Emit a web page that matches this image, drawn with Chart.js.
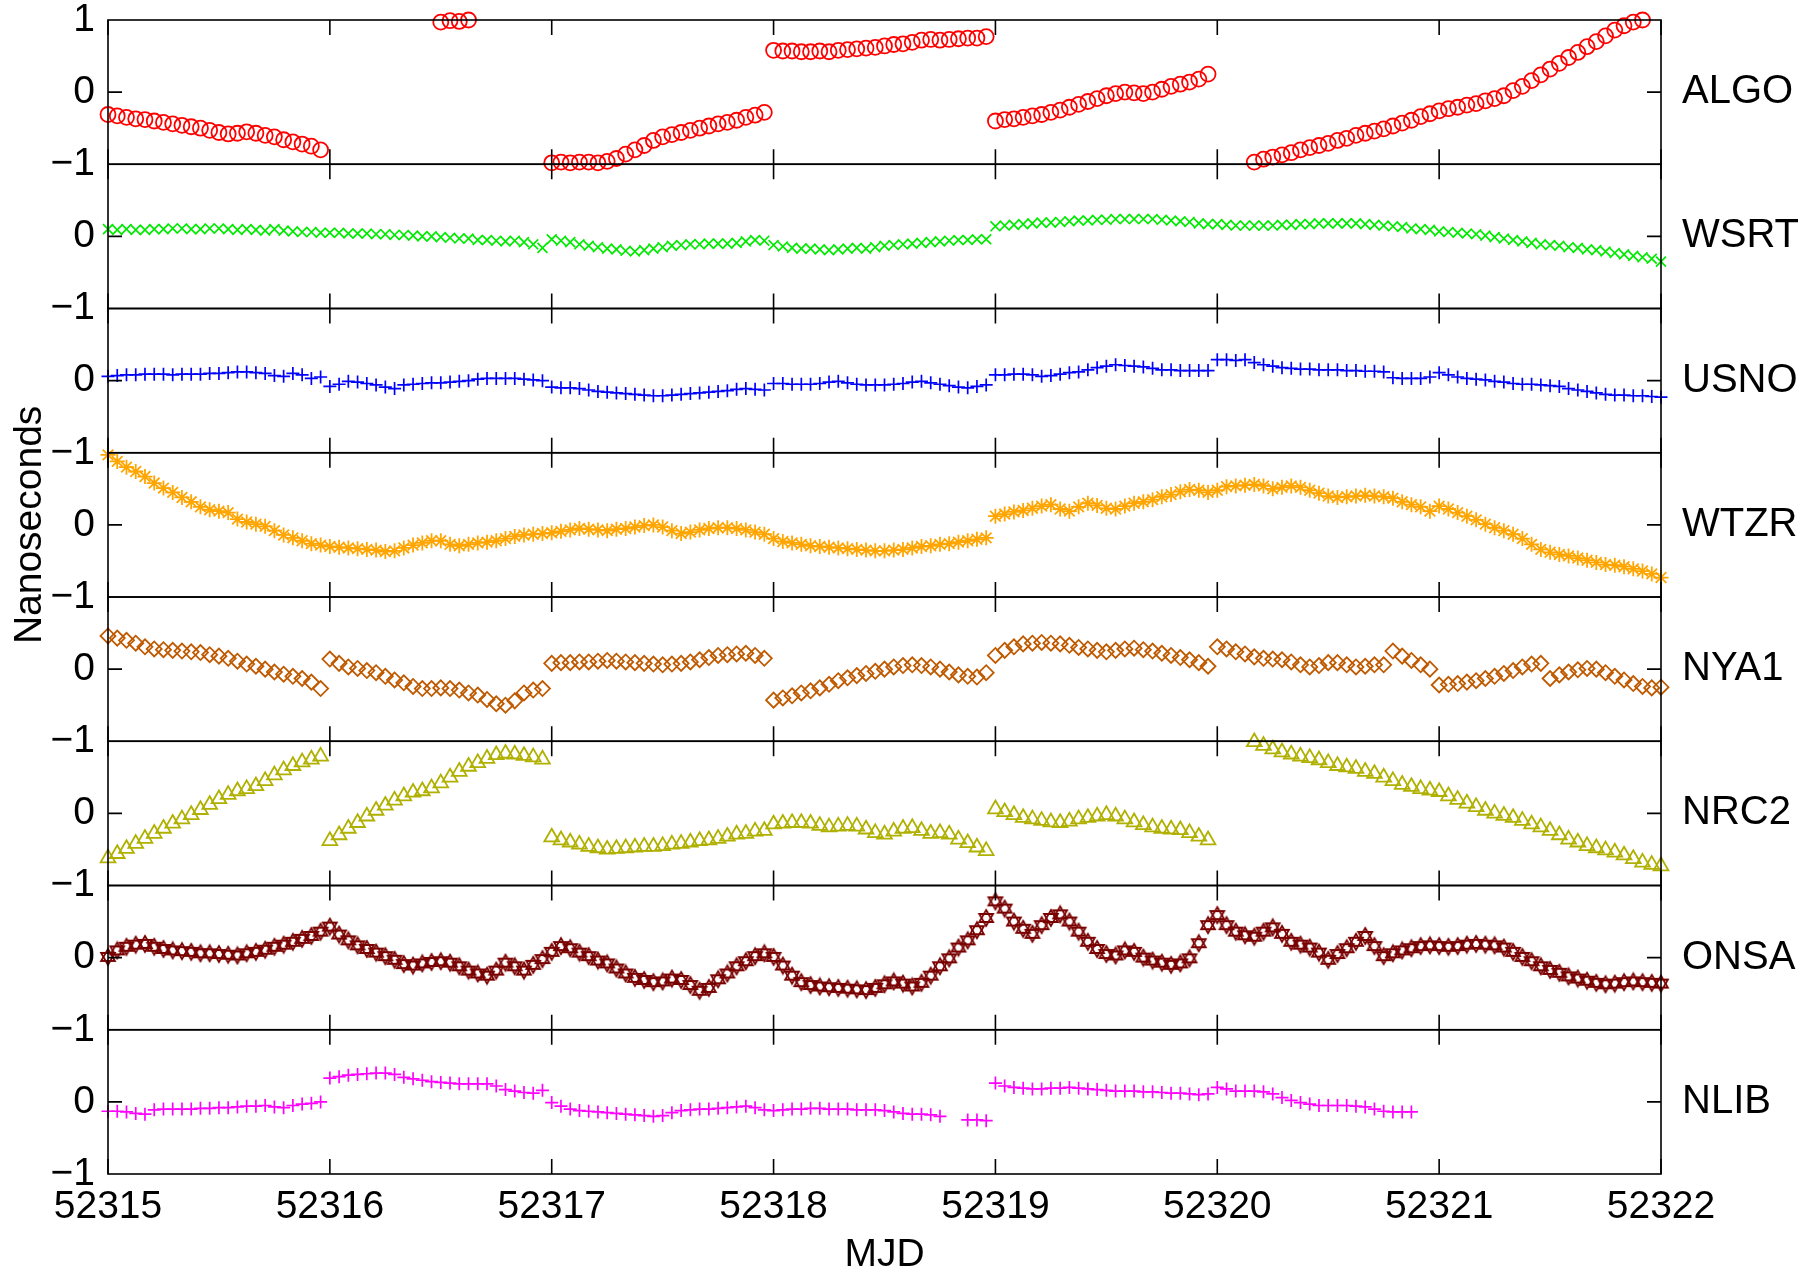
<!DOCTYPE html>
<html>
<head>
<meta charset="utf-8">
<title>Clock offsets by station</title>
<script src="https://cdn.jsdelivr.net/npm/chart.js@4.4.1/dist/chart.umd.min.js"></script>
<style>
  html, body { margin: 0; padding: 0; background: #ffffff; }
  #wrap { width: 1802px; height: 1275px; }
</style>
</head>
<body>
<div id="wrap"><canvas id="chart" width="1802" height="1275"></canvas></div>
<script>
// Hourly samples starting at MJD 52315.0 (index i -> 52315 + i/24), nanoseconds.
const MJD_START = 52315;
const SAMPLES_PER_DAY = 24;

const stations = ['ALGO', 'WSRT', 'USNO', 'WTZR', 'NYA1', 'NRC2', 'ONSA', 'NLIB'];
const xTicks = [52315, 52316, 52317, 52318, 52319, 52320, 52321, 52322];
const yTicks = [-1, 0, 1];

const algo = [
  -0.31,-0.33,-0.35,-0.37,-0.38,-0.40,-0.42,-0.44,-0.46,-0.48,-0.50,-0.53,-0.56,-0.58,-0.57,-0.55,-0.57,-0.60,-0.62,-0.66,-0.69,-0.72,-0.75,-0.80,
  null,null,null,null,null,null,null,null,null,null,null,null,0.97,0.99,0.98,1.00,null,null,null,null,null,null,null,null,
  -0.98,-0.97,-0.98,-0.97,-0.97,-0.98,-0.96,-0.92,-0.86,-0.80,-0.74,-0.67,-0.62,-0.59,-0.56,-0.53,-0.50,-0.47,-0.44,-0.42,-0.39,-0.35,-0.32,-0.28,
  0.58,0.57,0.57,0.56,0.56,0.57,0.56,0.58,0.59,0.60,0.61,0.62,0.64,0.66,0.67,0.69,0.72,0.73,0.72,0.73,0.74,0.75,0.75,0.77,
  -0.40,-0.38,-0.37,-0.35,-0.33,-0.31,-0.28,-0.25,-0.21,-0.17,-0.13,-0.09,-0.05,-0.02,0.00,-0.01,-0.02,0.00,0.04,0.08,0.11,0.14,0.18,0.25,
  null,null,null,null,-0.97,-0.93,-0.90,-0.87,-0.84,-0.80,-0.77,-0.74,-0.71,-0.67,-0.64,-0.60,-0.57,-0.54,-0.51,-0.47,-0.43,-0.39,-0.34,-0.30,
  -0.26,-0.23,-0.21,-0.18,-0.16,-0.12,-0.09,-0.05,0.02,0.08,0.16,0.24,0.32,0.40,0.48,0.55,0.63,0.70,0.78,0.86,0.92,0.97,1.00,null,null
];

const wsrt = [
  0.10,0.09,0.10,0.09,0.09,0.10,0.10,0.11,0.11,0.10,0.10,0.11,0.11,0.10,0.09,0.10,0.09,0.08,0.10,0.08,0.07,0.06,0.06,0.05,
  0.05,0.05,0.04,0.04,0.04,0.03,0.03,0.02,0.02,0.01,0.00,0.00,-0.01,-0.02,-0.03,-0.03,-0.05,-0.05,-0.06,-0.07,-0.06,-0.08,-0.11,-0.16,
  -0.04,-0.06,-0.08,-0.11,-0.13,-0.15,-0.17,-0.18,-0.20,-0.21,-0.19,-0.17,-0.15,-0.13,-0.12,-0.11,-0.11,-0.10,-0.10,-0.10,-0.09,-0.07,-0.05,-0.06,
  -0.12,-0.14,-0.16,-0.17,-0.17,-0.18,-0.19,-0.18,-0.17,-0.16,-0.17,-0.15,-0.13,-0.12,-0.11,-0.10,-0.09,-0.08,-0.07,-0.06,-0.05,-0.05,-0.04,-0.04,
  0.14,0.15,0.16,0.17,0.18,0.19,0.19,0.20,0.21,0.22,0.22,0.23,0.23,0.24,0.24,0.24,0.24,0.24,0.23,0.22,0.21,0.20,0.18,0.17,
  0.17,0.16,0.15,0.15,0.15,0.15,0.15,0.16,0.16,0.17,0.17,0.18,0.18,0.18,0.18,0.18,0.17,0.16,0.15,0.14,0.13,0.11,0.10,0.09,
  0.07,0.06,0.05,0.04,0.03,0.01,-0.01,-0.03,-0.05,-0.07,-0.09,-0.11,-0.12,-0.13,-0.15,-0.16,-0.18,-0.19,-0.21,-0.23,-0.25,-0.27,-0.29,-0.31,-0.35
];

const usno = [
  0.06,0.07,0.08,0.08,0.09,0.09,0.09,0.08,0.09,0.09,0.09,0.10,0.10,0.11,0.12,0.12,0.11,0.10,0.07,0.06,0.10,0.08,0.03,0.05,
  -0.08,-0.05,-0.01,-0.02,-0.04,-0.06,-0.09,-0.11,-0.06,-0.05,-0.04,-0.03,-0.03,-0.02,-0.01,0.00,0.02,0.03,0.03,0.03,0.03,0.02,0.01,0.00,
  -0.09,-0.10,-0.10,-0.11,-0.13,-0.15,-0.16,-0.17,-0.18,-0.19,-0.20,-0.21,-0.21,-0.20,-0.19,-0.18,-0.17,-0.16,-0.15,-0.14,-0.12,-0.11,-0.12,-0.13,
  -0.04,-0.04,-0.05,-0.05,-0.05,-0.04,-0.02,-0.01,-0.03,-0.05,-0.06,-0.06,-0.06,-0.05,-0.04,-0.02,-0.01,-0.03,-0.05,-0.07,-0.09,-0.10,-0.08,-0.06,
  0.08,0.08,0.09,0.09,0.08,0.06,0.07,0.09,0.11,0.12,0.15,0.18,0.20,0.22,0.21,0.20,0.19,0.17,0.15,0.15,0.14,0.14,0.14,0.14,
  0.29,0.29,0.28,0.29,0.25,0.22,0.20,0.18,0.17,0.16,0.16,0.15,0.15,0.15,0.14,0.14,0.13,0.13,0.12,0.04,0.03,0.03,0.03,0.05,
  0.11,0.08,0.05,0.03,0.02,0.01,-0.01,-0.02,-0.04,-0.05,-0.05,-0.06,-0.07,-0.08,-0.11,-0.13,-0.15,-0.17,-0.19,-0.20,-0.20,-0.21,-0.21,-0.22,-0.23
];

const wtzr = [
  0.97,0.88,0.80,0.74,0.67,0.58,0.51,0.45,0.38,0.32,0.25,0.21,0.19,0.17,0.08,0.04,0.01,-0.02,-0.08,-0.14,-0.18,-0.22,-0.26,-0.28,
  -0.30,-0.31,-0.32,-0.33,-0.34,-0.35,-0.37,-0.36,-0.32,-0.28,-0.25,-0.22,-0.22,-0.27,-0.29,-0.27,-0.25,-0.24,-0.22,-0.19,-0.16,-0.14,-0.13,-0.12,
  -0.11,-0.09,-0.07,-0.05,-0.06,-0.07,-0.08,-0.06,-0.05,-0.03,-0.01,0.00,-0.03,-0.08,-0.12,-0.10,-0.07,-0.05,-0.04,-0.04,-0.05,-0.07,-0.10,-0.13,
  -0.19,-0.23,-0.25,-0.27,-0.29,-0.30,-0.31,-0.32,-0.33,-0.34,-0.35,-0.36,-0.36,-0.35,-0.34,-0.32,-0.30,-0.29,-0.27,-0.26,-0.24,-0.22,-0.20,-0.18,
  0.12,0.15,0.18,0.20,0.23,0.26,0.28,0.22,0.19,0.25,0.30,0.27,0.23,0.22,0.26,0.30,0.32,0.35,0.39,0.42,0.46,0.49,0.48,0.45,
  0.48,0.53,0.54,0.55,0.56,0.54,0.50,0.52,0.54,0.52,0.48,0.44,0.40,0.38,0.39,0.40,0.41,0.40,0.39,0.37,0.32,0.28,0.25,0.19,
  0.26,0.22,0.17,0.12,0.07,0.01,-0.04,-0.08,-0.13,-0.19,-0.27,-0.34,-0.38,-0.41,-0.43,-0.46,-0.49,-0.52,-0.55,-0.56,-0.58,-0.61,-0.64,-0.68,-0.73
];

const nya1 = [
  0.46,0.43,0.40,0.36,0.31,0.28,0.27,0.26,0.25,0.24,0.23,0.20,0.18,0.15,0.11,0.07,0.04,0.00,-0.04,-0.07,-0.10,-0.13,-0.18,-0.27,
  0.14,0.08,0.03,0.01,-0.02,-0.05,-0.10,-0.15,-0.19,-0.24,-0.27,-0.27,-0.26,-0.27,-0.29,-0.33,-0.36,-0.42,-0.48,-0.50,-0.44,-0.33,-0.29,-0.27,
  0.08,0.09,0.09,0.10,0.10,0.11,0.12,0.11,0.10,0.09,0.08,0.07,0.06,0.07,0.08,0.10,0.13,0.16,0.19,0.20,0.21,0.22,0.19,0.15,
  -0.43,-0.40,-0.37,-0.33,-0.30,-0.26,-0.21,-0.16,-0.12,-0.09,-0.06,-0.03,0.00,0.03,0.05,0.06,0.05,0.03,0.00,-0.04,-0.08,-0.10,-0.11,-0.05,
  0.19,0.26,0.31,0.35,0.36,0.37,0.36,0.35,0.33,0.30,0.28,0.26,0.24,0.26,0.28,0.29,0.27,0.25,0.22,0.19,0.16,0.13,0.09,0.04,
  0.31,0.28,0.24,0.21,0.17,0.15,0.14,0.13,0.10,0.06,0.03,0.05,0.09,0.09,0.06,0.03,0.04,0.06,0.06,0.25,0.18,0.12,0.06,0.00,
  -0.22,-0.21,-0.20,-0.18,-0.16,-0.13,-0.10,-0.06,-0.02,0.03,0.07,0.08,-0.13,-0.08,-0.04,-0.01,0.01,0.00,-0.05,-0.10,-0.15,-0.20,-0.24,-0.26,-0.25
];

const nrc2 = [
  -0.62,-0.56,-0.49,-0.42,-0.35,-0.28,-0.21,-0.14,-0.08,-0.02,0.05,0.12,0.20,0.26,0.31,0.34,0.38,0.45,0.53,0.60,0.66,0.71,0.75,0.79,
  -0.38,-0.30,-0.21,-0.13,-0.04,0.04,0.11,0.18,0.24,0.29,0.31,0.35,0.42,0.50,0.58,0.65,0.70,0.76,0.81,0.83,0.82,0.80,0.78,0.75,
  -0.33,-0.37,-0.40,-0.43,-0.46,-0.48,-0.50,-0.49,-0.48,-0.47,-0.46,-0.46,-0.45,-0.43,-0.42,-0.40,-0.38,-0.37,-0.35,-0.32,-0.29,-0.28,-0.25,-0.24,
  -0.15,-0.14,-0.13,-0.13,-0.14,-0.17,-0.19,-0.18,-0.17,-0.18,-0.22,-0.27,-0.29,-0.25,-0.21,-0.20,-0.24,-0.28,-0.27,-0.29,-0.36,-0.41,-0.47,-0.52,
  0.06,0.02,-0.02,-0.06,-0.08,-0.10,-0.12,-0.13,-0.11,-0.08,-0.06,-0.04,-0.02,-0.04,-0.08,-0.12,-0.16,-0.19,-0.21,-0.22,-0.23,-0.27,-0.32,-0.37,
  null,null,null,null,0.99,0.94,0.89,0.85,0.82,0.79,0.77,0.74,0.70,0.66,0.64,0.62,0.58,0.55,0.50,0.45,0.40,0.37,0.34,0.32,
  0.30,0.24,0.19,0.14,0.09,0.04,0.00,-0.03,-0.06,-0.10,-0.15,-0.19,-0.24,-0.30,-0.36,-0.40,-0.45,-0.48,-0.51,-0.54,-0.58,-0.63,-0.68,-0.71,-0.73
];

const onsa = [
  0.01,0.10,0.15,0.18,0.19,0.15,0.12,0.10,0.09,0.08,0.06,0.06,0.05,0.04,0.03,0.06,0.08,0.11,0.15,0.18,0.22,0.26,0.30,0.36,
  0.43,0.32,0.24,0.17,0.12,0.07,0.02,-0.03,-0.09,-0.11,-0.08,-0.06,-0.05,-0.07,-0.12,-0.18,-0.22,-0.25,-0.18,-0.07,-0.12,-0.18,-0.10,-0.02,
  0.08,0.16,0.13,0.07,0.02,-0.04,-0.08,-0.15,-0.22,-0.28,-0.31,-0.34,-0.33,-0.29,-0.31,-0.38,-0.46,-0.42,-0.30,-0.22,-0.12,-0.05,0.02,0.06,
  0.01,-0.11,-0.25,-0.34,-0.38,-0.40,-0.41,-0.42,-0.43,-0.44,-0.45,-0.42,-0.37,-0.33,-0.36,-0.40,-0.35,-0.25,-0.12,-0.01,0.14,0.24,0.38,0.55,
  0.78,0.68,0.50,0.40,0.33,0.45,0.55,0.60,0.50,0.36,0.22,0.12,0.05,0.03,0.10,0.08,0.00,-0.04,-0.07,-0.10,-0.08,-0.01,0.20,0.45,
  0.59,0.45,0.36,0.31,0.29,0.36,0.42,0.33,0.22,0.18,0.14,0.07,-0.03,0.05,0.13,0.22,0.30,0.16,0.02,0.06,0.10,0.13,0.16,0.17,
  0.16,0.15,0.16,0.18,0.19,0.18,0.17,0.14,0.08,0.01,-0.05,-0.12,-0.17,-0.21,-0.26,-0.29,-0.32,-0.35,-0.37,-0.36,-0.34,-0.33,-0.34,-0.35,-0.36
];

const nlib = [
  -0.13,-0.13,-0.14,-0.16,-0.17,-0.11,-0.10,-0.10,-0.10,-0.10,-0.09,-0.09,-0.08,-0.08,-0.07,-0.06,-0.06,-0.05,-0.07,-0.08,-0.05,-0.03,-0.02,0.00,
  0.33,0.35,0.37,0.38,0.39,0.40,0.40,0.38,0.34,0.32,0.30,0.28,0.27,0.26,0.25,0.25,0.25,0.25,0.22,0.17,0.15,0.13,0.12,0.16,
  -0.01,-0.06,-0.10,-0.12,-0.13,-0.14,-0.15,-0.16,-0.17,-0.18,-0.19,-0.20,-0.19,-0.15,-0.12,-0.11,-0.10,-0.10,-0.09,-0.08,-0.07,-0.06,-0.08,-0.11,
  -0.12,-0.11,-0.10,-0.10,-0.09,-0.09,-0.10,-0.10,-0.10,-0.11,-0.11,-0.11,-0.12,-0.14,-0.16,-0.17,-0.17,-0.18,-0.20,null,null,-0.25,-0.25,-0.26,
  0.26,0.22,0.20,0.19,0.18,0.18,0.19,0.19,0.20,0.19,0.18,0.17,0.16,0.15,0.15,0.15,0.14,0.14,0.13,0.12,0.12,0.11,0.10,0.11,
  0.20,0.18,0.15,0.15,0.15,0.14,0.11,0.06,0.02,-0.01,-0.03,-0.05,-0.05,-0.05,-0.05,-0.06,-0.07,-0.10,-0.13,-0.14,-0.14,-0.14,null,null,
  null,null,null,null,null,null,null,null,null,null,null,null,null,null,null,null,null,null,null,null,null,null,null,null,null
];

const seriesValues = [algo, wsrt, usno, wtzr, nya1, nrc2, onsa, nlib];

// Marker look for each station, top panel first.
const markerColors = ['#ff0000', '#00ea00', '#0000ff', '#ffa500', '#bf5a00', '#b0b000', '#7a0000', '#ff00ff'];

// Six-pointed star marker (two overlaid triangles).
function hexagram(color, r) {
  const size = Math.ceil(2 * r + 4);
  const c = document.createElement('canvas');
  c.width = size; c.height = size;
  const g = c.getContext('2d');
  g.strokeStyle = color;
  g.lineWidth = 1.8;
  const cx = size / 2, cy = size / 2;
  [-Math.PI / 2, Math.PI / 2].forEach(function (start) {
    g.beginPath();
    for (let k = 0; k < 3; k++) {
      const a = start + k * 2 * Math.PI / 3;
      const px = cx + r * Math.cos(a), py = cy + r * Math.sin(a);
      if (k === 0) g.moveTo(px, py); else g.lineTo(px, py);
    }
    g.closePath();
    g.stroke();
  });
  return c;
}

const markerStyles = ['circle', 'crossRot', 'cross', 'star', 'rectRot', 'triangle', hexagram('#7a0000', 8), 'cross'];
const markerRadii = [7.5, 7, 6.5, 7.5, 7.5, 8.5, 8, 6.5];
const markerStroke = [1.8, 1.7, 1.7, 1.8, 1.8, 1.8, 1.8, 1.7];

const FONT = "'Liberation Sans', Arial, Helvetica, sans-serif";
Chart.defaults.font.family = FONT;
Chart.defaults.color = '#000000';

const panelIds = stations.map(function (_, i) { return 'y' + i; });

const datasets = stations.map(function (name, i) {
  return {
    label: name,
    yAxisID: panelIds[i],
    xAxisID: 'x',
    data: seriesValues[i].map(function (v, k) {
      return { x: MJD_START + k / SAMPLES_PER_DAY, y: v };
    }),
    showLine: false,
    pointStyle: markerStyles[i],
    pointRadius: markerRadii[i],
    pointHoverRadius: markerRadii[i],
    pointBorderWidth: markerStroke[i],
    pointBorderColor: markerColors[i],
    pointBackgroundColor: 'rgba(0,0,0,0)',
    clip: false
  };
});

function minusLabel(v) {
  return v < 0 ? '\u2212' + Math.abs(v) : String(v);
}

const scales = {
  x: {
    type: 'linear',
    position: 'bottom',
    min: xTicks[0],
    max: xTicks[xTicks.length - 1],
    afterBuildTicks: function (axis) { axis.ticks = xTicks.map(function (v) { return { value: v }; }); },
    ticks: { font: { size: 39 }, padding: 10, maxRotation: 0, autoSkip: false,
             callback: function (v) { return String(v); } },
    grid: { display: false, drawTicks: false },
    border: { display: false },
    title: { display: true, text: 'MJD', font: { size: 39, lineHeight: 1 }, padding: { top: 0, bottom: 0 } },
    afterFit: function (axis) { axis.height = 101; }
  }
};

stations.forEach(function (name, i) {
  // Left axis of each panel: value ticks; stacked so the panels share the plot width.
  scales[panelIds[i]] = {
    type: 'linear',
    position: 'left',
    stack: 'panels',
    stackWeight: 1,
    weight: stations.length - i,
    min: -1,
    max: 1,
    afterBuildTicks: function (axis) { axis.ticks = yTicks.map(function (v) { return { value: v }; }); },
    ticks: {
      font: { size: 39 },
      padding: 13,
      autoSkip: false,
      callback: function (v) { return (v === 1 && i > 0) ? '' : minusLabel(v); }
    },
    grid: { display: false, drawTicks: false },
    border: { display: false },
    title: {
      display: i === 3,
      text: 'Nanoseconds',
      font: { size: 39 },
      padding: { top: 7, bottom: 0 }
    },
    afterFit: function (axis) {
      axis.width = 108;
      axis.paddingTop = 20;
      axis.paddingBottom = 0;
    }
  };
  // Right axis of each panel: the station name at zero.
  scales['r' + i] = {
    type: 'linear',
    position: 'right',
    stack: 'names',
    stackWeight: 1,
    weight: i,
    min: -1,
    max: 1,
    afterBuildTicks: function (axis) { axis.ticks = [{ value: 0 }]; },
    ticks: {
      font: { size: 40 },
      padding: 21,
      autoSkip: false,
      callback: function () { return name; }
    },
    grid: { display: false, drawTicks: false },
    border: { display: false },
    afterFit: function (axis) {
      axis.width = 141;
      axis.paddingTop = 0;
      axis.paddingBottom = 0;
    }
  };
});

// Panel frames with inward tick marks.
const panelFrames = {
  id: 'panelFrames',
  afterDatasetsDraw: function (chart) {
    const ctx = chart.ctx;
    const area = chart.chartArea;
    const xs = chart.scales.x;
    const tickLen = 15, zeroTickLen = 14;
    ctx.save();
    ctx.strokeStyle = '#000000';
    ctx.lineWidth = 1.6;
    panelIds.forEach(function (id) {
      const s = chart.scales[id];
      const top = s.getPixelForValue(1);
      const bottom = s.getPixelForValue(-1);
      const mid = s.getPixelForValue(0);
      ctx.strokeRect(area.left, top, area.right - area.left, bottom - top);
      ctx.beginPath();
      xTicks.forEach(function (v) {
        const px = xs.getPixelForValue(v);
        ctx.moveTo(px, top); ctx.lineTo(px, top + tickLen);
        ctx.moveTo(px, bottom); ctx.lineTo(px, bottom - tickLen);
      });
      ctx.moveTo(area.left, mid); ctx.lineTo(area.left + zeroTickLen, mid);
      ctx.moveTo(area.right, mid); ctx.lineTo(area.right - zeroTickLen, mid);
      ctx.stroke();
    });
    ctx.restore();
  }
};

new Chart(document.getElementById('chart'), {
  type: 'scatter',
  data: { datasets: datasets },
  options: {
    responsive: false,
    animation: false,
    devicePixelRatio: 1,
    events: [],
    layout: { padding: 0 },
    plugins: { legend: { display: false }, tooltip: { enabled: false } },
    scales: scales
  },
  plugins: [panelFrames]
});
</script>
</body>
</html>
